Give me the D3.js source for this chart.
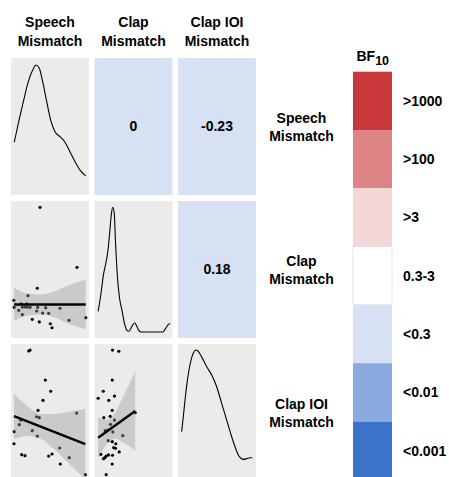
<!DOCTYPE html>
<html>
<head>
<meta charset="utf-8">
<script src="https://cdn.jsdelivr.net/npm/d3@7"></script>
<style>
  html, body { margin: 0; padding: 0; background: #fff; }
  svg { display: block; font-family: "Liberation Sans", Arial, Helvetica, sans-serif; }
</style>
</head>
<body>
<svg id="chart" width="449" height="477"></svg>
<script>
// Variables (scaled units, 0-100 over each panel)
const varNames = [['Speech', 'Mismatch'], ['Clap', 'Mismatch'], ['Clap IOI', 'Mismatch']];
const varDomain = [0, 100];

// Correlations (upper triangle)
const corrCells = [[0, 1], [0, 2], [1, 2]];
const corrLabels = ['0', '-0.23', '0.18'];
const corrBF = ['<0.3', '<0.3', '<0.3'];

// Bayes factor legend
const bfLabels = ['>1000', '>100', '>3', '0.3-3', '<0.3', '<0.01', '<0.001'];
const bfColors = ['#c9383b', '#dd8586', '#f3d7d8', '#ffffff', '#d6e1f3', '#88aadf', '#3a73c9'];

// Densities on the diagonal [value, density]
const speechDensity = [[4.2, 38.5], [9.4, 52.3], [15.8, 68.1], [22.2, 82.7], [27.8, 91.2], [32.1, 94.9],
  [36.3, 92.5], [40.6, 82.7], [45.8, 68.1], [50.9, 54.7], [56.4, 46.2], [62.8, 42.6], [69.2, 38.5],
  [75.6, 31.6], [82.1, 24.3], [88.5, 18.2], [95.8, 13.9]];
const clapDensity = [[4.7, 19.5], [8.1, 31.6], [11.5, 46.2], [15.0, 56.0], [17.6, 65.7], [19.6, 77.9],
  [21.8, 91.2], [23.5, 95.4], [25.3, 91.2], [26.9, 70.6], [29.5, 43.8], [32.1, 29.2], [35.5, 19.5],
  [38.8, 9.7], [41.4, 5.6], [44.0, 4.9], [46.5, 6.8], [49.1, 9.7], [51.7, 10.9], [54.2, 8.5],
  [56.8, 5.6], [60.3, 4.4], [73.1, 4.4], [87.6, 4.4], [91.0, 6.8], [94.5, 9.7], [96.8, 10.7]];
const ioiDensity = [[4.7, 36.0], [6.8, 46.9], [9.0, 59.1], [11.5, 71.3], [14.1, 81.0], [16.7, 88.3],
  [19.6, 93.2], [22.7, 95.6], [25.3, 95.1], [28.2, 92.7], [32.4, 88.3], [36.8, 83.4], [43.2, 77.4],
  [49.6, 68.8], [56.0, 56.7], [62.4, 44.5], [68.8, 32.3], [73.1, 25.0], [77.3, 19.0], [80.8, 16.6],
  [83.7, 15.8], [88.1, 16.3], [92.3, 17.0], [95.3, 17.0]];

// Scatter points [x, y]
const speechClapPoints = [[3.8, 27.5], [4.2, 22.4], [9.9, 20.2], [12.8, 25.0], [14.5, 22.6], [14.5, 17.0],
  [17.9, 22.6], [20.1, 25.0], [21.8, 30.9], [20.9, 22.6], [24.4, 22.4], [27.3, 13.6], [32.9, 19.7],
  [34.2, 22.4], [33.7, 36.3], [36.3, 11.7], [37.2, 95.4], [40.6, 18.2], [44.5, 22.1], [48.3, 18.0],
  [50.4, 10.4], [52.6, 7.5], [62.8, 21.7], [74.4, 12.9], [84.6, 51.6], [95.8, 14.8]];
const speechIoiPoints = [[22.7, 94.9], [24.4, 95.6], [44.0, 73.7], [50.9, 65.5], [41.0, 58.9], [34.6, 51.6],
  [84.2, 49.6], [32.9, 46.9], [36.3, 46.2], [12.4, 44.5], [10.6, 41.1], [27.3, 36.7], [4.2, 36.0],
  [33.7, 32.8], [3.8, 27.2], [62.4, 24.1], [13.7, 19.2], [17.9, 18.5], [52.6, 19.7], [48.3, 18.2],
  [74.7, 17.0], [63.2, 12.4], [95.3, 4.6]];
const clapIoiPoints = [[23.1, 95.6], [31.2, 94.7], [22.7, 73.7], [11.2, 65.5], [4.7, 60.4], [18.3, 58.9],
  [25.6, 62.0], [22.7, 51.6], [52.2, 49.9], [11.9, 46.2], [20.1, 47.2], [25.6, 44.5], [20.5, 41.4],
  [13.7, 36.7], [17.1, 37.2], [23.5, 35.8], [36.3, 33.1], [17.6, 29.4], [22.7, 28.7], [27.3, 27.2],
  [24.7, 24.3], [26.9, 23.9], [31.7, 21.2], [8.1, 19.5], [17.9, 19.0], [23.1, 18.8], [15.0, 18.2],
  [11.5, 16.3], [13.2, 17.0], [22.7, 12.4], [15.0, 4.6]];

// Linear fits [x, y] and confidence bands [x, lower, upper]
const speechClapFit = [[3.8, 24.5], [95.8, 24.5]];
const speechClapBand = [[3.8, 12.5, 36.5], [21.8, 16.5, 32.5], [38.8, 17.2, 31.8], [56.0, 15.0, 34.0],
  [73.1, 10.6, 38.4], [95.8, 6.3, 42.7]];
const speechIoiFit = [[3.8, 47.4], [95.3, 27.0]];
const speechIoiBand = [[3.8, 30.9, 64.0], [21.8, 32.9, 54.2], [38.8, 30.6, 48.9], [56.0, 22.8, 48.9],
  [73.1, 13.4, 50.6], [95.3, 1.5, 52.6]];
const clapIoiFit = [[4.7, 31.6], [52.2, 51.1]];
const clapIoiBand = [[4.7, 16.6, 46.6], [14.1, 25.7, 44.7], [20.5, 29.9, 46.0], [28.2, 30.9, 51.4],
  [35.9, 28.3, 60.4], [43.6, 25.7, 69.5], [52.2, 22.3, 79.9]];

const densities = [speechDensity, clapDensity, ioiDensity];
const scatterPanels = [
  { row: 1, col: 0, points: speechClapPoints, fit: speechClapFit, band: speechClapBand },
  { row: 2, col: 0, points: speechIoiPoints, fit: speechIoiFit, band: speechIoiBand },
  { row: 2, col: 1, points: clapIoiPoints, fit: clapIoiFit, band: clapIoiBand },
];

const PANEL = { left: 11, top: 58, w: 78, h: 137, gapX: 5.5, gapY: 6 };
const PANEL_BG = '#ebebeb';
const LEGEND = { x: 353, top: 71.7, w: 39, segH: 58.3, labelX: 403 };

const svg = d3.select('#chart');
const colX = j => PANEL.left + j * (PANEL.w + PANEL.gapX);
const rowY = i => PANEL.top + i * (PANEL.h + PANEL.gapY);
const xScale = j => d3.scaleLinear().domain(varDomain).range([colX(j), colX(j) + PANEL.w]);
const yScale = i => d3.scaleLinear().domain(varDomain).range([rowY(i) + PANEL.h, rowY(i)]);

// clip paths
const defs = svg.append('defs');
for (let i = 0; i < 3; i++) {
  for (let j = 0; j < 3; j++) {
    defs.append('clipPath').attr('id', `clip-${i}-${j}`)
      .append('rect')
      .attr('x', colX(j)).attr('y', rowY(i))
      .attr('width', PANEL.w).attr('height', PANEL.h);
  }
}

// panel backgrounds
for (let i = 0; i < 3; i++) {
  for (let j = 0; j < 3; j++) {
    let fill = PANEL_BG;
    const k = corrCells.findIndex(c => c[0] === i && c[1] === j);
    if (k >= 0) fill = bfColors[bfLabels.indexOf(corrBF[k])];
    svg.append('rect')
      .attr('x', colX(j)).attr('y', rowY(i))
      .attr('width', PANEL.w).attr('height', PANEL.h)
      .attr('fill', fill);
  }
}

// correlation labels
corrCells.forEach(([i, j], k) => {
  svg.append('text')
    .attr('x', colX(j) + PANEL.w / 2)
    .attr('y', rowY(i) + PANEL.h / 2)
    .attr('dy', '0.35em')
    .attr('text-anchor', 'middle')
    .style('font-size', '14px')
    .style('font-weight', 'bold')
    .attr('fill', '#000')
    .text(corrLabels[k]);
});

// diagonal densities
densities.forEach((dens, i) => {
  const x = xScale(i), y = yScale(i);
  svg.append('path')
    .datum(dens)
    .attr('clip-path', `url(#clip-${i}-${i})`)
    .attr('d', d3.line().x(d => x(d[0])).y(d => y(d[1])).curve(d3.curveMonotoneX))
    .attr('fill', 'none')
    .attr('stroke', '#000')
    .attr('stroke-width', 1.1);
});

// scatter + linear fit
scatterPanels.forEach(p => {
  const x = xScale(p.col), y = yScale(p.row);
  const g = svg.append('g').attr('clip-path', `url(#clip-${p.row}-${p.col})`);

  g.selectAll(null)
    .data(p.points)
    .enter()
    .append('circle')
    .attr('cx', d => x(d[0]))
    .attr('cy', d => y(d[1]))
    .attr('r', 1.6)
    .attr('fill', '#000');

  g.append('path')
    .datum(p.band)
    .attr('d', d3.area()
      .x(d => x(d[0]))
      .y0(d => y(d[1]))
      .y1(d => y(d[2]))
      .curve(d3.curveMonotoneX))
    .attr('fill', '#999999')
    .attr('fill-opacity', 0.4);

  g.append('path')
    .datum(p.fit)
    .attr('d', d3.line().x(d => x(d[0])).y(d => y(d[1])))
    .attr('stroke', '#000')
    .attr('stroke-width', 2.4)
    .attr('fill', 'none');
});

// column headers
varNames.forEach((lines, j) => {
  const t = svg.append('text')
    .attr('text-anchor', 'middle')
    .style('font-size', '14px')
    .style('font-weight', 'bold')
    .attr('fill', '#000');
  lines.forEach((s, k) => {
    t.append('tspan').attr('x', colX(j) + PANEL.w / 2).attr('y', 27.3 + k * 18.4).text(s);
  });
});

// row labels
varNames.forEach((lines, i) => {
  const cy = rowY(i) + PANEL.h / 2;
  const t = svg.append('text')
    .attr('text-anchor', 'middle')
    .style('font-size', '14px')
    .style('font-weight', 'bold')
    .attr('fill', '#000');
  lines.forEach((s, k) => {
    t.append('tspan').attr('x', 301.5).attr('y', cy - 3.5 + k * 18.4).text(s);
  });
});

// legend
const title = svg.append('text')
  .attr('x', 356.5).attr('y', 61)
  .style('font-size', '14px')
  .style('font-weight', 'bold')
  .attr('fill', '#000');
title.append('tspan').text('BF');
title.append('tspan').attr('dy', 3.5).style('font-size', '12.5px').text('10');

bfLabels.forEach((lab, k) => {
  const y0 = LEGEND.top + k * LEGEND.segH;
  svg.append('rect')
    .attr('x', LEGEND.x).attr('y', y0)
    .attr('width', LEGEND.w).attr('height', LEGEND.segH)
    .attr('fill', bfColors[k])
    .attr('stroke', k === 3 ? '#dddddd' : 'none')
    .attr('stroke-width', 0.8);
  svg.append('text')
    .attr('x', LEGEND.labelX)
    .attr('y', y0 + LEGEND.segH / 2)
    .attr('dy', '0.35em')
    .style('font-size', '14px')
    .style('font-weight', 'bold')
    .attr('fill', '#000')
    .text(lab);
});
</script>
</body>
</html>
